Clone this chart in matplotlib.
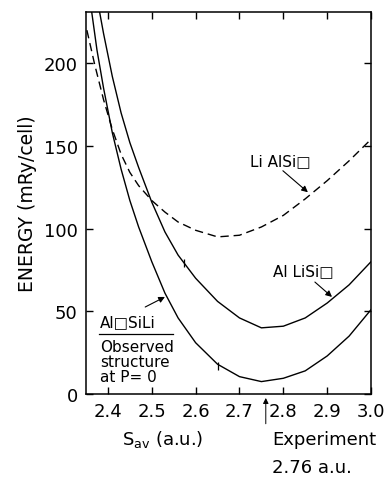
import matplotlib
matplotlib.use("Agg")
import matplotlib.pyplot as plt

plt.rcParams["font.family"] = ["DejaVu Sans"]
plt.rcParams["mathtext.default"] = "regular"

# Al□SiLi  (observed structure at P = 0), lower solid curve
s_low = [2.363, 2.375, 2.39, 2.41, 2.43, 2.45, 2.47, 2.50, 2.53, 2.56,
         2.60, 2.65, 2.70, 2.75, 2.80, 2.85, 2.90, 2.95, 3.00]
e_low = [231, 208, 185, 158, 136, 117, 101, 80, 61, 46,
         31, 18, 10.5, 7.5, 9.5, 14, 23, 35, 51]

# AlLiSi□, upper solid curve
s_mid = [2.381, 2.39, 2.41, 2.43, 2.45, 2.47, 2.50, 2.53, 2.56, 2.60,
         2.65, 2.70, 2.75, 2.80, 2.85, 2.90, 2.95, 3.00]
e_mid = [231, 218, 192, 170, 152, 137, 116, 98, 84, 70,
         56, 46, 40, 41, 46, 55, 66, 80]

# LiAlSi□, dashed curve
s_dash = [2.352, 2.37, 2.39, 2.41, 2.43, 2.45, 2.47, 2.50, 2.53, 2.56,
          2.60, 2.65, 2.70, 2.75, 2.80, 2.85, 2.90, 2.95, 3.00]
e_dash = [220, 199, 178, 160, 145, 134, 126, 117, 110, 104,
          99, 95, 96, 101, 108, 118, 129, 141, 154]

# small marks drawn on the curves
mark_s = [2.573, 2.65]
mark_e = [79, 17]

x_ticks = [2.4, 2.5, 2.6, 2.7, 2.8, 2.9, 3.0]
y_ticks = [0, 50, 100, 150, 200]
s_exp = 2.76

fig = plt.figure(figsize=(3.85, 4.81), dpi=100)
ax = fig.add_axes([0.2234, 0.1788, 0.7403, 0.7942])

lw = 1.0
ax.plot(s_low, e_low, color="black", lw=lw)
ax.plot(s_mid, e_mid, color="black", lw=lw)
ax.plot(s_dash, e_dash, color="black", lw=lw, dashes=(6, 3.5))
ax.plot(mark_s, mark_e, ls="none", marker="|", ms=6, mew=0.9, color="black")

ax.set_xlim(2.35, 3.0)
ax.set_ylim(0, 231)
ax.set_xticks(x_ticks)
ax.set_xticklabels(["2.4", "2.5", "2.6", "2.7", "2.8", "2.9", "3.0"])
ax.set_yticks(y_ticks)
ax.tick_params(direction="in", length=5, width=1.0, top=True, right=True,
               labelsize=13, pad=6)
for sp in ax.spines.values():
    sp.set_linewidth(1.1)

ax.set_ylabel("ENERGY (mRy/cell)", fontsize=13.5, labelpad=5)

arrow = dict(arrowstyle="-|>", color="black", lw=0.8,
             mutation_scale=9, shrinkA=0, shrinkB=0)

# curve labels
ax.text(2.724, 141, "Li AlSi\u25a1", fontsize=11, va="center", ha="left")
ax.annotate("", xy=(2.856, 122), xytext=(2.799, 135), arrowprops=arrow)

ax.text(2.776, 74.4, "Al LiSi\u25a1", fontsize=11, va="center", ha="left")
ax.annotate("", xy=(2.911, 58.7), xytext=(2.872, 67.7), arrowprops=arrow)

ax.text(2.382, 43.5, "Al\u25a1SiLi", fontsize=11, va="center", ha="left")
ax.plot([2.380, 2.548], [36.3, 36.3], color="black", lw=0.9)
ax.text(2.382, 19.5, "Observed\nstructure\nat P= 0", fontsize=11,
        va="center", ha="left", linespacing=1.0)
ax.annotate("", xy=(2.530, 58.7), xytext=(2.485, 52.6), arrowprops=arrow)

# experiment marker below the axis
ax.annotate("", xy=(s_exp, -2.4), xytext=(s_exp, -18), arrowprops=dict(
    arrowstyle="-|>", color="black", lw=0.7, mutation_scale=8,
    shrinkA=0, shrinkB=0), annotation_clip=False)
ax.text(2.774, -27.2, "Experiment", fontsize=13, va="center", ha="left",
        clip_on=False)
ax.text(2.774, -44.1, "2.76 a.u.", fontsize=13, va="center", ha="left",
        clip_on=False)
ax.text(2.432, -27.2, r"S$_{av}$ (a.u.)", fontsize=13, va="center",
        ha="left", clip_on=False)

fig.savefig("out.png", dpi=100, facecolor="white")
